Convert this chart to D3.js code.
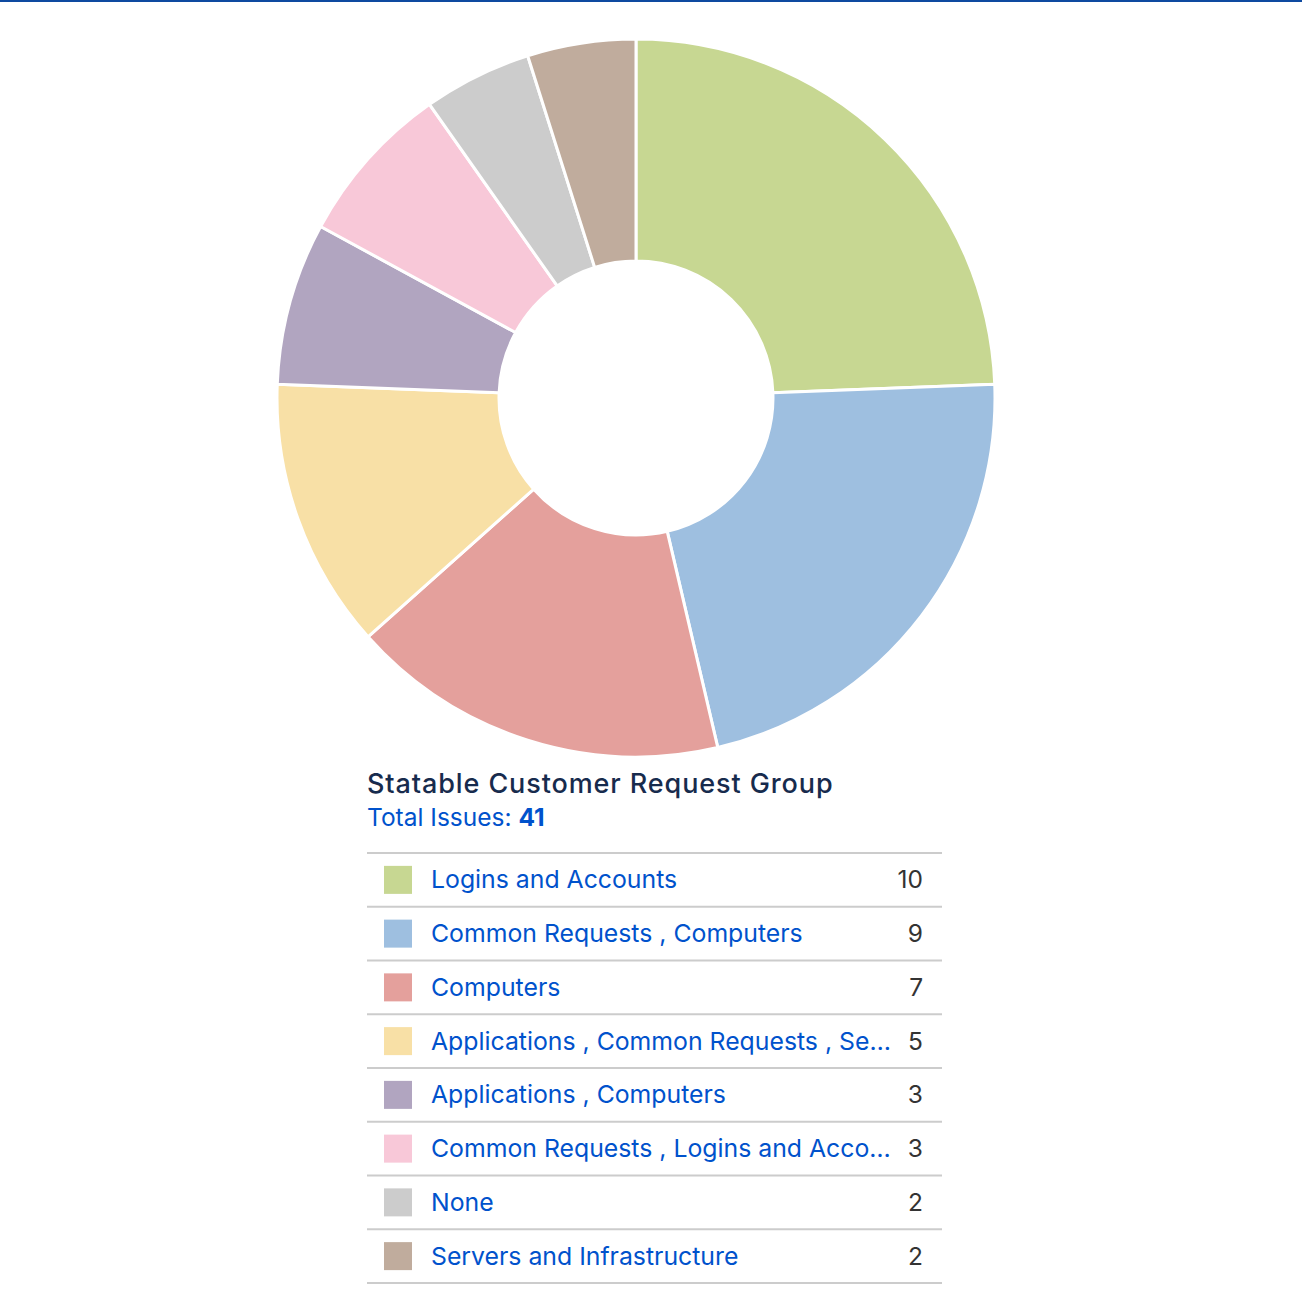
<!DOCTYPE html>
<html><head><meta charset="utf-8">
<script src="https://cdn.jsdelivr.net/npm/d3@7"></script>
<style>
html,body{margin:0;padding:0;background:#fff;}
svg{display:block;}
</style></head>
<body>
<svg id="chart" width="1302" height="1308"></svg>
<script>
const categories = [
  "Logins and Accounts",
  "Common Requests , Computers",
  "Computers",
  "Applications , Common Requests , Servers and Infrastructure",
  "Applications , Computers",
  "Common Requests , Logins and Accounts",
  "None",
  "Servers and Infrastructure"
];
const values = [10, 9, 7, 5, 3, 3, 2, 2];
const colors = ["#c7d792", "#9ebfe0", "#e4a09c", "#f8e0a6", "#b1a5c0", "#f8c8d8", "#cccccc", "#c0ac9d"];
const title = "Statable Customer Request Group";
const totalLabel = "Total Issues: ";

const svg = d3.select("#chart");
const FONT = "Inter, 'Noto Sans', sans-serif";

// top rule
svg.append("rect").attr("x", 0).attr("y", 0).attr("width", 1302).attr("height", 2).attr("fill", "#0e4aa0");

const cx = 636, cy = 398, rOuter = 359, rInner = 137;
const pie = d3.pie().sort(null).value(d => d.v);
const data = categories.map((c, i) => ({c, v: values[i], col: colors[i]}));
const arc = d3.arc().innerRadius(rInner).outerRadius(rOuter);
svg.append("g").attr("transform", `translate(${cx},${cy})`)
  .selectAll("path").data(pie(data)).join("path")
  .attr("d", arc).attr("fill", d => d.data.col)
  .attr("stroke", "#fff").attr("stroke-width", 3).attr("stroke-linejoin", "round");

const x0 = 367, x1 = 942;
svg.append("text").attr("x", x0).attr("y", 793).attr("font-family", FONT)
  .attr("font-size", 27).attr("font-weight", 500).attr("letter-spacing", 0.9)
  .attr("fill", "#172b4d").text(title);
const tot = svg.append("text").attr("x", x0).attr("y", 826).attr("font-family", FONT)
  .attr("font-size", 24.5).attr("fill", "#0052cc");
tot.append("tspan").text(totalLabel);
tot.append("tspan").attr("font-weight", 700).text(d3.sum(values));

const y = d3.scaleBand().domain(d3.range(categories.length)).range([853, 1283]).padding(0);
const rows = svg.append("g").selectAll("g").data(data).join("g")
  .attr("transform", (d, i) => `translate(0,${y(i)})`);
const rh = y.bandwidth();
svg.append("line").attr("x1", x0).attr("x2", x1).attr("y1", 853).attr("y2", 853)
  .attr("stroke", "#cccccc").attr("stroke-width", 2);
rows.append("line").attr("x1", x0).attr("x2", x1).attr("y1", rh).attr("y2", rh)
  .attr("stroke", "#cccccc").attr("stroke-width", 2);
rows.append("rect").attr("x", 384).attr("y", rh / 2 - 14).attr("width", 28).attr("height", 28)
  .attr("fill", d => d.col);
const maxW = 462;
rows.append("text").attr("x", 431).attr("y", rh / 2 + 8.5).attr("font-family", FONT)
  .attr("font-size", 24.8).attr("fill", "#0052cc")
  .each(function(d) {
    const t = d3.select(this);
    t.text(d.c);
    if (this.getComputedTextLength() > maxW) {
      let s = d.c;
      while (s.length > 0) {
        s = s.slice(0, -1);
        t.text(s.trimEnd() + "…");
        if (this.getComputedTextLength() <= maxW) break;
      }
    }
  });
rows.append("text").attr("x", 923).attr("y", rh / 2 + 8.5).attr("text-anchor", "end")
  .attr("font-family", FONT).attr("font-size", 24.5).attr("fill", "#333333").text(d => d.v);
</script>
</body></html>
